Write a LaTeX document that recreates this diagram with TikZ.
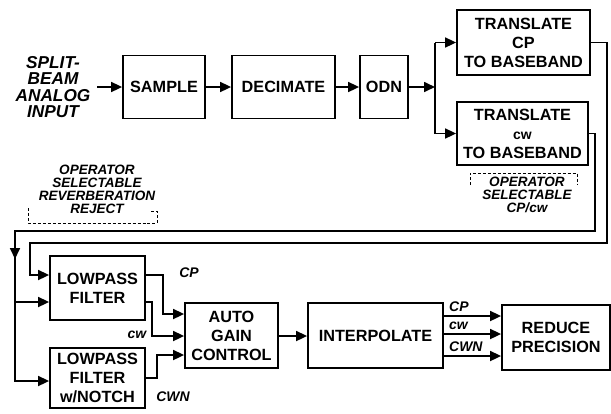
\documentclass[tikz,border=0pt]{standalone}
\usepackage{fontspec}
\setmainfont{Liberation Sans}
\usetikzlibrary{arrows.meta}
\newcommand\bxfont{\fontsize{16.3}{19}\selectfont\bfseries}
\newcommand\inpfont{\fontsize{17.3}{16.4}\selectfont\bfseries\itshape}
\newcommand\annfont{\fontsize{13.6}{13.2}\selectfont\bfseries\itshape}
\newcommand\lbfont{\fontsize{14}{14}\selectfont\bfseries\itshape}
\begin{document}
\begin{tikzpicture}[x=1bp,y=-1bp,
  box/.style={draw, line width=1.8bp, inner sep=0pt, align=center, font=\bxfont},
  ln/.style={line width=1.7bp},
  arr/.style={ln, -{Triangle[length=11bp,width=10bp]}},
  lab/.style={font=\lbfont, inner sep=0pt},
  ann/.style={font=\annfont, inner sep=0pt, align=center},
  brk/.style={densely dashed, line width=1bp},
]
\useasboundingbox (0,0) rectangle (611,413);

% top row
\node[font=\inpfont, align=center, inner sep=0pt] (inp) at (53,87) {SPLIT-\\BEAM\\ANALOG\\INPUT};
\node[box, minimum width=82bp, minimum height=63bp] (sample) at (164,87) {SAMPLE};
\node[box, minimum width=103bp, minimum height=63bp] (dec) at (283.5,87) {DECIMATE};
\node[box, minimum width=48bp, minimum height=63bp] (odn) at (384,87) {ODN};
\node[box, minimum width=133bp, minimum height=65bp] (tcp) at (523.5,42.5) {TRANSLATE\\CP\\TO BASEBAND};
\node[box, minimum width=131bp, minimum height=63bp] (tcw) at (522.5,133.5) {TRANSLATE\\{\fontsize{14}{19}\selectfont cw}\\TO BASEBAND};

\coordinate (in) at (97,87);
\coordinate (br) at (435,87);
\draw[arr] (in) -- (sample);
\draw[arr] (sample) -- (dec);
\draw[arr] (dec) -- (odn);
\draw[arr] (odn) -- (br);
\draw[ln] (br |- tcp) -- (br |- tcw);
\draw[arr] (br |- tcp) -- (tcp.west |- tcp);
\draw[arr] (br |- tcw) -- (tcw.west |- tcw);

% annotations
\node[ann] (rev) at (97,189.5) {OPERATOR\\SELECTABLE\\REVERBERATION\\REJECT};
\draw[brk] (28,208) -- (28,223) -- (157,223) -- (157,211) -- (151,211);
\node[ann] (sel) at (527,195) {OPERATOR\\SELECTABLE\\CP/cw};
\draw[brk] (470,185) -- (470,173) -- (577,173) -- (577,184);

% bottom row
\node[box, minimum width=95bp, minimum height=64bp] (lp) at (97.5,288) {LOWPASS\\FILTER};
\node[box, minimum width=95bp, minimum height=60bp] (lpn) at (97.5,378) {LOWPASS\\FILTER\\w/NOTCH};
\node[box, minimum width=93bp, minimum height=65bp] (agc) at (231.5,335.5) {AUTO\\GAIN\\CONTROL};
\node[box, minimum width=135bp, minimum height=65bp] (int) at (375.5,335.5) {INTERPOLATE};
\node[box, minimum width=108bp, minimum height=65bp] (red) at (556,337.5) {REDUCE\\PRECISION};

% feedback loops
\coordinate (cwl) at (15,231);
\coordinate (cwm) at (15,259);
\coordinate (cwb) at (15,302);
\draw[arr] (tcp.east) -| (607,243) -- (30,243) |- (lp.west |- 0,275);
\draw[arr] (tcw.east) -| (595,231) -- (cwl) |- (lpn.west |- 0,381);
\draw[arr] (cwl) -- (cwm);
\draw[arr] (cwb) -- (lp.west |- cwb);

% to AGC
\draw[arr] (lp.east |- 0,275) -- (163,275) -- (163,314) -- (agc.west |- 0,314);
\draw[arr] (lp.east |- 0,302) -- (152,302) -- (152,336) -- (agc.west |- 0,336);
\draw[arr] (lpn.east |- 0,378) -- (157,378) -- (157,355) -- (agc.west |- 0,355);
\node[lab] (l1) at (189,273) {CP};
\node[lab] (l2) at (137,335) {cw};
\node[lab] (l3) at (173,397) {CWN};

\draw[arr] (agc.east |- 0,336) -- (int.west |- 0,336);

% to reduce precision
\draw[arr] (int.east |- 0,316) -- (red.west |- 0,316);
\draw[arr] (int.east |- 0,334) -- (red.west |- 0,334);
\draw[arr] (int.east |- 0,356) -- (red.west |- 0,356);
\node[lab, anchor=west] (r1) at (449,307) {CP};
\node[lab, anchor=west] (r2) at (449,326) {cw};
\node[lab, anchor=west] (r3) at (449,347) {CWN};
\end{tikzpicture}
\end{document}
